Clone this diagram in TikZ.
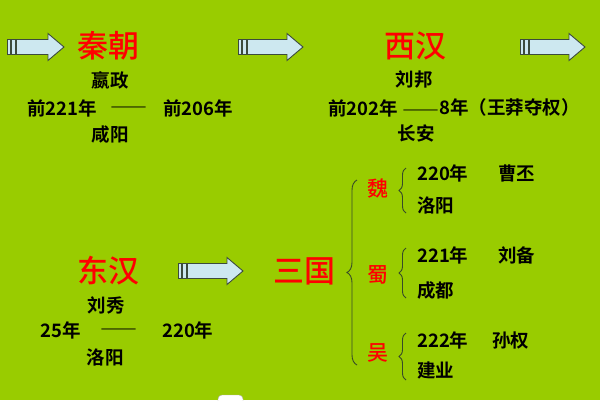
\documentclass[tikz,border=0pt]{standalone}
\usepackage{fontspec}
\setmainfont{Noto Sans CJK SC}[BoldFont={Noto Sans CJK SC Bold}]
\newfontfamily\cjkmed{Noto Sans CJK SC Medium}
\newfontfamily\fwdash[RawFeature=+fwid]{Noto Sans CJK SC Bold}
\usetikzlibrary{decorations.pathreplacing}
\definecolor{bg}{RGB}{153,204,0}
\definecolor{arrowfill}{RGB}{205,232,240}
\definecolor{arrowline}{RGB}{60,75,60}
\definecolor{titlered}{RGB}{255,0,0}
\definecolor{bracecol}{RGB}{55,75,40}
\tikzset{
  txt/.style={font=\fontsize{18.5}{19}\selectfont\bfseries, text=black, inner sep=0pt},
  title/.style={font=\fontsize{31}{31}\selectfont\cjkmed, text=titlered, inner sep=0pt},
  kingdom/.style={font=\fontsize{21}{21}\selectfont\cjkmed, text=titlered, inner sep=0pt},
  arrowpart/.style={fill=arrowfill, draw=arrowline, line width=0.9pt, line join=miter},
  bigbrace/.style={draw=bracecol, line width=0.9pt, decorate, decoration={brace, amplitude=10pt, aspect=0.5}},
  smallbrace/.style={draw=bracecol, line width=0.9pt, decorate, decoration={brace, amplitude=7pt, aspect=0.5}}
}
\newcommand{\striparrow}[3]{%
  \path[arrowpart] (#1,#2-7.5) rectangle (#1+3.5,#2+7.5);
  \path[arrowpart] (#1+4.5,#2-7.5) rectangle (#1+8,#2+7.5);
  \path[arrowpart] (#1+9.5,#2-7.5) -- (#3-16,#2-7.5) -- (#3-16,#2-13.5) -- (#3,#2)
    -- (#3-16,#2+13.5) -- (#3-16,#2+7.5) -- (#1+9.5,#2+7.5) -- cycle;
}
\begin{document}
\begin{tikzpicture}[x=1pt,y=-1pt]
\useasboundingbox (0,0) rectangle (600,400);
\fill[bg] (0,0) rectangle (600,400);
\begin{scope}
\clip (0,0) rectangle (600,400);
\fill[white, draw=gray!60, rounded corners=4pt] (218,395) rectangle (243,415);
\end{scope}

% arrows
\striparrow{7}{47}{64}
\striparrow{238}{47}{303}
\striparrow{520}{47}{585}
\striparrow{178}{271}{243}

% Qin
\node[title] (qin) at (108,46) {秦朝};
\node[txt] (yingzheng) at (110,80) {嬴政};
\node[txt, anchor=west] (qins) at (27,108) {前221年};
\node[txt, anchor=west] (qind) at (110,111) {\fwdash ——};
\node[txt, anchor=west] (qine) at (163,108) {前206年};
\node[txt] (xianyang) at (110,134) {咸阳};

% Western Han
\node[title] (xihan) at (415,46) {西汉};
\node[txt] (liubang) at (414,80) {刘邦};
\node[txt, anchor=west] (xihans) at (328,108) {前202年};
\node[txt, anchor=west] (xihane) at (402,108) {\raisebox{-3pt}{\fwdash ——}8年（王莽夺权）};
\node[txt] (changan) at (416,133) {长安};

% Eastern Han
\node[title] (donghan) at (108,271) {东汉};
\node[txt] (liuxiu) at (106,305) {刘秀};
\node[txt, anchor=west] (donghans) at (40,330) {25年};
\node[txt, anchor=west] (donghand) at (100,333) {\fwdash ——};
\node[txt, anchor=west] (donghane) at (162,330) {220年};
\node[txt] (luoyang1) at (105,357) {洛阳};

% Three Kingdoms
\node[title] (sanguo) at (304,271) {三国};
\draw[bigbrace] (357,365) -- (357,180);

\node[kingdom] (wei) at (378,188) {魏};
\draw[smallbrace] (406,213) -- (406,168);
\node[txt, anchor=west] (weiy) at (417,173) {220年};
\node[txt, anchor=west] (weip) at (498,173) {曹丕};
\node[txt, anchor=west] (weic) at (417,205) {洛阳};

\node[kingdom] (shu) at (378,275) {蜀};
\draw[smallbrace] (406,298) -- (406,248);
\node[txt, anchor=west] (shuy) at (417,255) {221年};
\node[txt, anchor=west] (shup) at (498,255) {刘备};
\node[txt, anchor=west] (shuc) at (417,290) {成都};

\node[kingdom] (wu) at (378,353) {吴};
\draw[smallbrace] (406,380) -- (406,333);
\node[txt, anchor=west] (wuy) at (417,340) {222年};
\node[txt, anchor=west] (wup) at (492,340) {孙权};
\node[txt, anchor=west] (wuc) at (417,370) {建业};
\end{tikzpicture}
\end{document}
